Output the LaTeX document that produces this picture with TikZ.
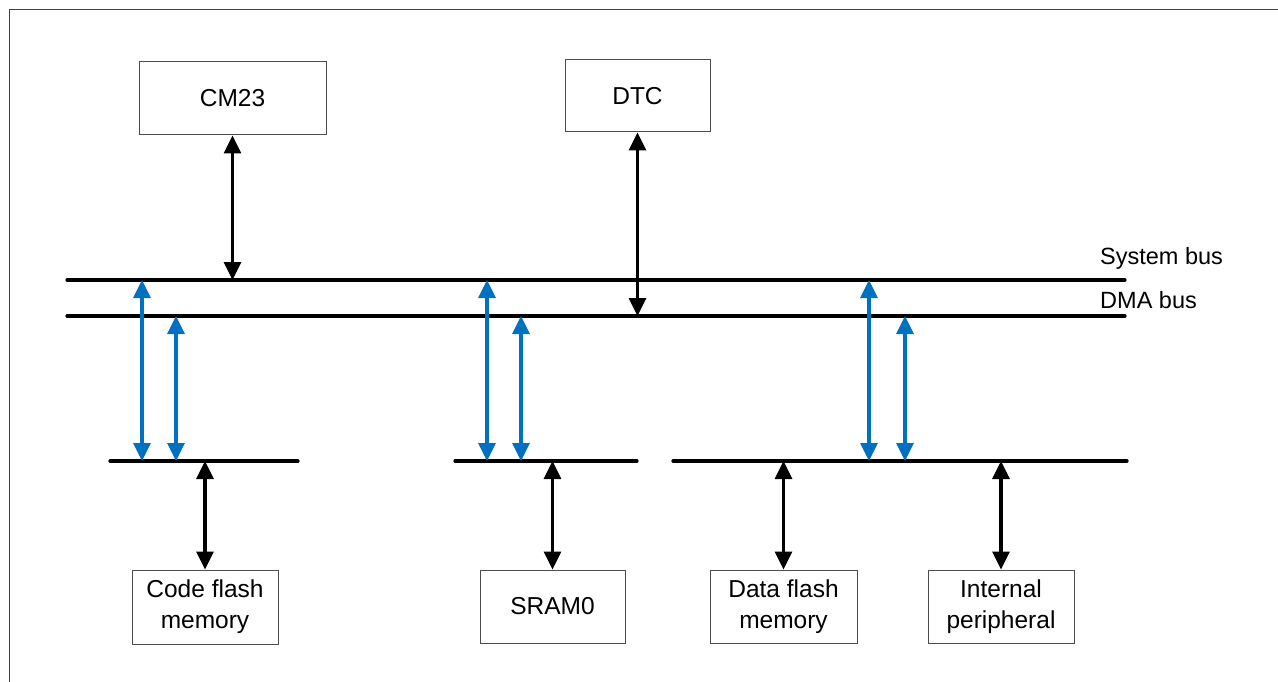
\documentclass[tikz,border=0pt]{standalone}
\usepackage{fontspec}
\setmainfont{Liberation Sans}
\usetikzlibrary{arrows.meta}
\definecolor{dmablue}{RGB}{0,112,192}
\begin{document}
\begin{tikzpicture}[x=1pt,y=-1pt,
  box/.style={draw=black!70,line width=1pt,fill=white,inner sep=0pt,align=center,
    font=\fontsize{24.5}{31}\selectfont},
  bus/.style={line width=3.2pt,line cap=round},
  barrow/.style={line width=3.2pt,{Triangle[width=17pt,length=18pt]}-{Triangle[width=17pt,length=18pt]}},
  blarrow/.style={barrow,draw=dmablue,color=dmablue},
  lbl/.style={anchor=west,inner sep=0pt,font=\fontsize{23.5}{28}\selectfont}]
\useasboundingbox (0,0) rectangle (1278,682);
\fill[white] (0,0) rectangle (1278,682);
\draw[black!75,line width=1pt] (9,682) -- (9,10) -- (1278,10);
% boxes
\node[box,minimum width=187pt,minimum height=73pt] (cm23) at (232.5,98.5) {CM23};
\node[box,minimum width=145pt,minimum height=72pt] (dtc) at (637.5,96) {DTC};
\node[box,minimum width=146pt,minimum height=74pt] (cfm) at (205,607) {Code flash\\memory};
\node[box,minimum width=145pt,minimum height=73pt] (sram) at (552.5,606.5) {SRAM0};
\node[box,minimum width=147pt,minimum height=73pt] (dfm) at (783.5,606.5) {Data flash\\memory};
\node[box,minimum width=146pt,minimum height=73pt] (ip) at (1001,606.5) {Internal\\peripheral};
% bus end points
\coordinate (sysL) at (67,280); \coordinate (sysR) at (1125,280);
\coordinate (dmaL) at (67,316); \coordinate (dmaR) at (1125,316);
\coordinate (b1L) at (110,461); \coordinate (b1R) at (298,461);
\coordinate (b2L) at (455,461); \coordinate (b2R) at (637,461);
\coordinate (b3L) at (673,461); \coordinate (b3R) at (1127,461);
\draw[bus] (sysL) -- (sysR);
\draw[bus] (dmaL) -- (dmaR);
\draw[bus] (b1L) -- (b1R);
\draw[bus] (b2L) -- (b2R);
\draw[bus] (b3L) -- (b3R);
\node[lbl] (lsys) at (1100,258) {System bus};
\node[lbl] (ldma) at (1100,300) {DMA bus};
% black arrows
\draw[barrow] (cm23.south) -- (cm23.south |- sysL);
\draw[barrow] (dtc.south) -- (dtc.south |- dmaL);
\draw[barrow] (cfm.north |- b1L) -- (cfm.north);
\draw[barrow] (sram.north |- b2L) -- (sram.north);
\draw[barrow] (dfm.north |- b3L) -- (dfm.north);
\draw[barrow] (ip.north |- b3L) -- (ip.north);
% blue arrows
\coordinate (u1) at (142,461); \coordinate (v1) at (176,461);
\coordinate (u2) at (487,461); \coordinate (v2) at (521,461);
\coordinate (u3) at (869,461); \coordinate (v3) at (905,461);
\foreach \u/\v in {u1/v1,u2/v2,u3/v3}{
  \draw[blarrow] (\u |- sysL) -- (\u);
  \draw[blarrow] (\v |- dmaL) -- (\v);
}
\end{tikzpicture}
\end{document}
